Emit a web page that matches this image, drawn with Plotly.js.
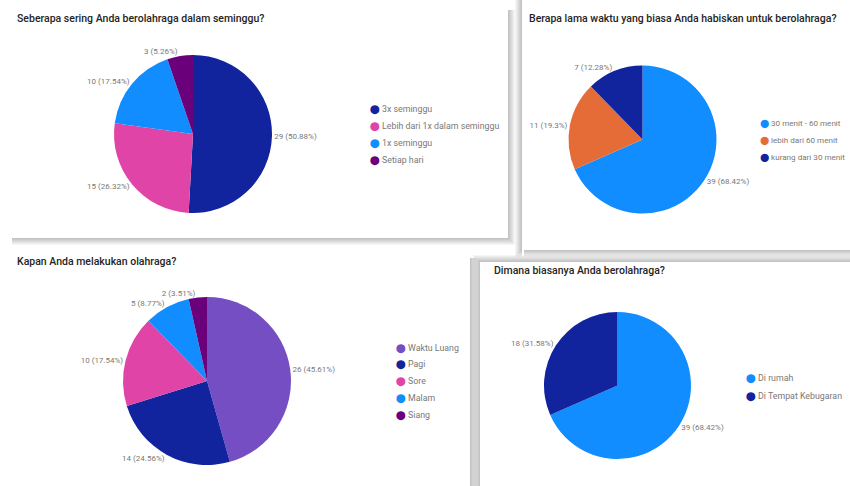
<!DOCTYPE html>
<html>
<head>
<meta charset="utf-8">
<script src="https://cdn.plot.ly/plotly-3.0.1.min.js"></script>
<style>
html,body{margin:0;padding:0;background:#ffffff;}
#chart{width:850px;height:486px;}
</style>
</head>
<body>
<div id="chart"></div>
<script>
// ---- Data ----
const freqLabels = ["3x seminggu", "Lebih dari 1x dalam seminggu", "1x seminggu", "Setiap hari"];
const freqValues = [29, 15, 10, 3];
const freqColors = ["#12239E", "#E044A7", "#118DFF", "#6B007B"];

const durLabels = ["30 menit - 60 menit", "lebih dari 60 menit", "kurang dari 30 menit"];
const durValues = [39, 11, 7];
const durColors = ["#118DFF", "#E66C37", "#12239E"];

const timeLabels = ["Waktu Luang", "Pagi", "Sore", "Malam", "Siang"];
const timeValues = [26, 14, 10, 5, 2];
const timeColors = ["#744EC2", "#12239E", "#E044A7", "#118DFF", "#6B007B"];

const placeLabels = ["Di rumah", "Di Tempat Kebugaran"];
const placeValues = [39, 18];
const placeColors = ["#118DFF", "#12239E"];

const titles = [
  "Seberapa sering Anda berolahraga dalam seminggu?",
  "Berapa lama waktu yang biasa Anda habiskan untuk berolahraga?",
  "Kapan Anda melakukan olahraga?",
  "Dimana biasanya Anda berolahraga?"
];

// ---- Layout helpers (pixel geometry) ----
const W = 850, H = 486;
const px = x => x / W;
const py = y => 1 - y / H;
const FONT = "Roboto, sans-serif";

function labelText(values) {
  const tot = values.reduce((a, b) => a + b, 0);
  return values.map(v => v + " (" + (Math.round(v / tot * 10000) / 100).toString() + "%)");
}

function pie(labels, values, colors, cx, cy, r) {
  return {
    type: "pie",
    labels: labels,
    values: values,
    marker: {colors: colors, line: {width: 0}},
    sort: false,
    direction: "clockwise",
    rotation: 0,
    text: labelText(values),
    textinfo: "text",
    textposition: "outside",
    textfont: {size: 8, color: "#7a7876", family: FONT},
    hoverinfo: "label+value+percent",
    domain: {x: [px(cx - r), px(cx + r)], y: [py(cy + r), py(cy - r)]},
    showlegend: false,
    automargin: false
  };
}

const traces = [
  pie(freqLabels, freqValues, freqColors, 193, 134, 79),
  pie(durLabels, durValues, durColors, 642.5, 139.5, 74),
  pie(timeLabels, timeValues, timeColors, 207, 381, 84),
  pie(placeLabels, placeValues, placeColors, 617.5, 385.5, 73.5)
];

// panel cards with soft shadows on given sides
const panels = [
  {r: [10, 8, 508, 238], sides: ["r", "b"]},
  {r: [522, 0, 850, 250], sides: ["l", "b"]},
  {r: [10, 256, 470, 486], sides: ["r"]},
  {r: [480, 262, 850, 486], sides: ["l", "t"]}
];
const shapes = [];
function rectPx(x0, y0, x1, y1, fill) {
  return {type: "rect", xref: "paper", yref: "paper", layer: "below",
    x0: px(x0), x1: px(x1), y0: py(y1), y1: py(y0), line: {width: 0}, fillcolor: fill};
}
panels.forEach(p => {
  const [x0, y0, x1, y1] = p.r;
  for (let k = 7; k >= 1; k--) {
    const f = "rgba(0,0,0,0.035)";
    p.sides.forEach(s => {
      if (s === "r") shapes.push(rectPx(x1, y0 + 2, x1 + k, y1 + (p.sides.includes("b") ? k : 0), f));
      if (s === "l") shapes.push(rectPx(x0 - k, y0, x0, y1 + (p.sides.includes("b") ? k : 0), f));
      if (s === "b") shapes.push(rectPx(x0 + 2, y1, x1, y1 + k, f));
      if (s === "t") shapes.push(rectPx(x0 - (p.sides.includes("l") ? k : 0), y0 - k, x1, y0, f));
    });
  }
  shapes.push(rectPx(x0, y0, x1, y1, "#ffffff"));
});

const titlePos = [[15, 19], [527, 19], [15, 261], [492, 270]];
const annotations = titles.map((t, i) => ({
  text: t, xref: "paper", yref: "paper",
  x: px(titlePos[i][0]), y: py(titlePos[i][1]),
  xanchor: "left", yanchor: "middle", showarrow: false,
  font: {size: 10.5, color: "#252423", family: FONT, weight: 500}
}));

// legends (Power BI style: round dot + label)
function addLegend(labels, colors, x, y0, step, size) {
  labels.forEach((lab, i) => {
    annotations.push({
      text: '<span style="color:' + colors[i] + ';font-family:DejaVu Sans">⬤</span> ' + lab,
      xref: "paper", yref: "paper", x: px(x), y: py(y0 + i * step),
      xanchor: "left", yanchor: "middle", showarrow: false,
      font: {size: size, color: "#7a7876", family: FONT}
    });
  });
}
addLegend(freqLabels, freqColors, 368, 109, 17.2, 8.8);
addLegend(durLabels, durColors, 758, 123, 17, 8.1);
addLegend(timeLabels, timeColors, 394, 348, 16.9, 8.8);
addLegend(placeLabels, placeColors, 744, 378, 18, 8.8);

const layout = {
  width: W, height: H,
  margin: {l: 0, r: 0, t: 0, b: 0, autoexpand: false},
  paper_bgcolor: "#ffffff",
  showlegend: false,
  shapes: shapes,
  annotations: annotations
};

Plotly.newPlot("chart", traces, layout, {displayModeBar: false, staticPlot: true});
</script>
</body>
</html>
